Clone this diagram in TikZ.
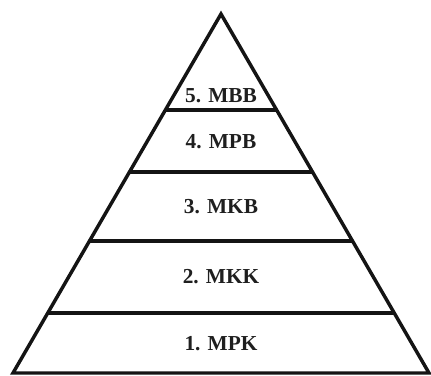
\documentclass[tikz,border=0pt]{standalone}
\usepackage{fontspec}
\setmainfont{Liberation Serif}
\usetikzlibrary{calc}
\begin{document}
\begin{tikzpicture}[x=0.75pt,y=-0.75pt,
  edge/.style={draw=black!92,line width=2.6pt,line join=miter},
  tier/.style={draw=black!92,line width=3.2pt},
  lbl/.style={font=\bfseries\fontsize{16}{18}\selectfont,text=black!88,inner sep=0pt}]
\useasboundingbox (0,0) rectangle (431,375);
\coordinate (A) at (221,14);
\coordinate (L) at (13,373);
\coordinate (R) at (429,373);
\draw[edge] (L) -- (A) -- (R) -- cycle;
% tier lines (fractions of height from apex)
\foreach \y/\n in {110/a,172/b,241/c,313/d}{
  \pgfmathsetmacro{\t}{(\y-14)/359}
  \coordinate (l\n) at ($(A)!\t!(L)$);
  \coordinate (r\n) at ($(A)!\t!(R)$);
  \draw[tier] (l\n) -- (r\n);
}
\node[lbl] (t5) at (221,96) {5. MBB};
\node[lbl] (t4) at (221,142) {4. MPB};
\node[lbl] (t3) at (221,207) {3. MKB};
\node[lbl] (t2) at (221,277) {2. MKK};
\node[lbl] (t1) at (221,344) {1. MPK};
\end{tikzpicture}
\end{document}
